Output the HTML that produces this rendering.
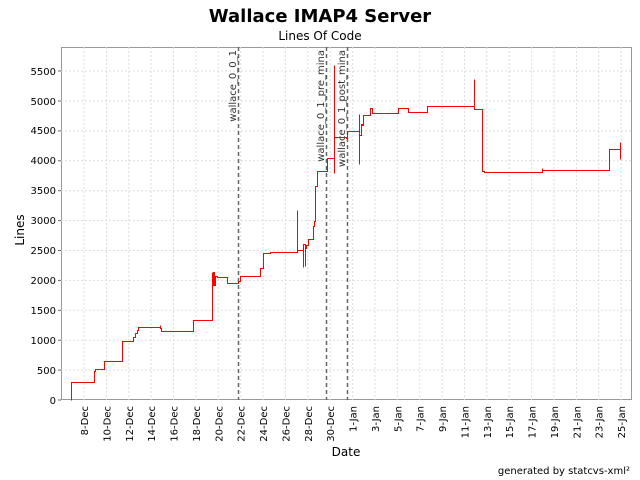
<!DOCTYPE html>
<html><head><meta charset="utf-8"><style>body{margin:0;background:#fff}svg{display:block}text{font-family:"DejaVu Sans","Liberation Sans",sans-serif}</style></head><body>
<svg width="640" height="480" xmlns="http://www.w3.org/2000/svg">
<text x="320" y="22" text-anchor="middle" font-size="18" font-weight="bold">Wallace IMAP4 Server</text>
<text x="320" y="40" text-anchor="middle" font-size="12">Lines Of Code</text>
<rect x="61.5" y="47.5" width="570" height="352" fill="#fff" stroke="#999" stroke-width="1"/>
<g stroke="#ddd" stroke-dasharray="2,2" stroke-width="1">
<line x1="61" x2="632" y1="370.1" y2="370.1"/><line x1="61" x2="632" y1="340.2" y2="340.2"/><line x1="61" x2="632" y1="310.3" y2="310.3"/><line x1="61" x2="632" y1="280.4" y2="280.4"/><line x1="61" x2="632" y1="250.5" y2="250.5"/><line x1="61" x2="632" y1="220.6" y2="220.6"/><line x1="61" x2="632" y1="190.7" y2="190.7"/><line x1="61" x2="632" y1="160.8" y2="160.8"/><line x1="61" x2="632" y1="130.9" y2="130.9"/><line x1="61" x2="632" y1="101" y2="101"/><line x1="61" x2="632" y1="71" y2="71"/>
<line x1="84" x2="84" y1="47" y2="400"/><line x1="106.4" x2="106.4" y1="47" y2="400"/><line x1="128.8" x2="128.8" y1="47" y2="400"/><line x1="151.1" x2="151.1" y1="47" y2="400"/><line x1="173.5" x2="173.5" y1="47" y2="400"/><line x1="195.9" x2="195.9" y1="47" y2="400"/><line x1="218.3" x2="218.3" y1="47" y2="400"/><line x1="240.7" x2="240.7" y1="47" y2="400"/><line x1="263" x2="263" y1="47" y2="400"/><line x1="285.4" x2="285.4" y1="47" y2="400"/><line x1="307.8" x2="307.8" y1="47" y2="400"/><line x1="330.2" x2="330.2" y1="47" y2="400"/><line x1="352.6" x2="352.6" y1="47" y2="400"/><line x1="374.9" x2="374.9" y1="47" y2="400"/><line x1="397.3" x2="397.3" y1="47" y2="400"/><line x1="419.7" x2="419.7" y1="47" y2="400"/><line x1="442.1" x2="442.1" y1="47" y2="400"/><line x1="464.5" x2="464.5" y1="47" y2="400"/><line x1="486.8" x2="486.8" y1="47" y2="400"/><line x1="509.2" x2="509.2" y1="47" y2="400"/><line x1="531.6" x2="531.6" y1="47" y2="400"/><line x1="554" x2="554" y1="47" y2="400"/><line x1="576.4" x2="576.4" y1="47" y2="400"/><line x1="598.7" x2="598.7" y1="47" y2="400"/><line x1="621.1" x2="621.1" y1="47" y2="400"/>
</g>
<g stroke="#666">
<line x1="58" x2="61" y1="400" y2="400"/><line x1="58" x2="61" y1="370.1" y2="370.1"/><line x1="58" x2="61" y1="340.2" y2="340.2"/><line x1="58" x2="61" y1="310.3" y2="310.3"/><line x1="58" x2="61" y1="280.4" y2="280.4"/><line x1="58" x2="61" y1="250.5" y2="250.5"/><line x1="58" x2="61" y1="220.6" y2="220.6"/><line x1="58" x2="61" y1="190.7" y2="190.7"/><line x1="58" x2="61" y1="160.8" y2="160.8"/><line x1="58" x2="61" y1="130.9" y2="130.9"/><line x1="58" x2="61" y1="101" y2="101"/><line x1="58" x2="61" y1="71" y2="71"/>
</g>
<g font-size="10" text-anchor="end">
<text x="56" y="404">0</text><text x="56" y="374">500</text><text x="56" y="344">1000</text><text x="56" y="314">1500</text><text x="56" y="284">2000</text><text x="56" y="254">2500</text><text x="56" y="224">3000</text><text x="56" y="194">3500</text><text x="56" y="164">4000</text><text x="56" y="134">4500</text><text x="56" y="105">5000</text><text x="56" y="75">5500</text>
</g>
<g font-size="10" text-anchor="end">
<text transform="translate(88,406) rotate(-90)">8-Dec</text>
<text transform="translate(110.4,406) rotate(-90)">10-Dec</text>
<text transform="translate(132.8,406) rotate(-90)">12-Dec</text>
<text transform="translate(155.1,406) rotate(-90)">14-Dec</text>
<text transform="translate(177.5,406) rotate(-90)">16-Dec</text>
<text transform="translate(199.9,406) rotate(-90)">18-Dec</text>
<text transform="translate(222.3,406) rotate(-90)">20-Dec</text>
<text transform="translate(244.7,406) rotate(-90)">22-Dec</text>
<text transform="translate(267,406) rotate(-90)">24-Dec</text>
<text transform="translate(289.4,406) rotate(-90)">26-Dec</text>
<text transform="translate(311.8,406) rotate(-90)">28-Dec</text>
<text transform="translate(334.2,406) rotate(-90)">30-Dec</text>
<text transform="translate(356.6,406) rotate(-90)">1-Jan</text>
<text transform="translate(378.9,406) rotate(-90)">3-Jan</text>
<text transform="translate(401.3,406) rotate(-90)">5-Jan</text>
<text transform="translate(423.7,406) rotate(-90)">7-Jan</text>
<text transform="translate(446.1,406) rotate(-90)">9-Jan</text>
<text transform="translate(468.5,406) rotate(-90)">11-Jan</text>
<text transform="translate(490.8,406) rotate(-90)">13-Jan</text>
<text transform="translate(513.2,406) rotate(-90)">15-Jan</text>
<text transform="translate(535.6,406) rotate(-90)">17-Jan</text>
<text transform="translate(558,406) rotate(-90)">19-Jan</text>
<text transform="translate(580.4,406) rotate(-90)">21-Jan</text>
<text transform="translate(602.7,406) rotate(-90)">23-Jan</text>
<text transform="translate(625.1,406) rotate(-90)">25-Jan</text>
</g>
<g stroke="#666" stroke-dasharray="4,3" stroke-width="1.5">
<line x1="238.5" y1="47" x2="238.5" y2="400"/><line x1="326.5" y1="47" x2="326.5" y2="400"/><line x1="347.5" y1="47" x2="347.5" y2="400"/>
</g>
<g font-size="10" fill="#333" text-anchor="end">
<text transform="translate(236,50) rotate(-90)">wallace_0_0_1</text>
<text transform="translate(324,50) rotate(-90)">wallace_0_1_pre_mina</text>
<text transform="translate(345,50) rotate(-90)">wallace_0_1_post_mina</text>
</g>
<path transform="translate(0.5,0.5)" fill="none" stroke="#f00" stroke-width="1" d="M71,400V382H94V371H95V369H104V361H122V341H133V337H135V333H137V330H138V327H160V325V328H161V331H193V320H212V272V285H213V272H214V285H215V276H217V277H227V283H238V281H240V276H260V268H263V253H270V252H297V250V210V250H303V248V267V244H305V266V248H306V245H308V239H313V226H314V221H315V186H317V171H327V158H334V65V173V137H346V138H347V131H359V114V164V135H361V124H362V125H363V115H370V108H372V113H398V108H408V112H427V106H474V79V109H482V171H484V172H542V170V168V170H609V149H620V142V159V148H621"/>
<text transform="translate(24,230) rotate(-90)" text-anchor="middle" font-size="12">Lines</text>
<text x="346" y="456" text-anchor="middle" font-size="12">Date</text>
<text x="630" y="474" text-anchor="end" font-size="10">generated by statcvs-xml²</text>
</svg>
</body></html>
